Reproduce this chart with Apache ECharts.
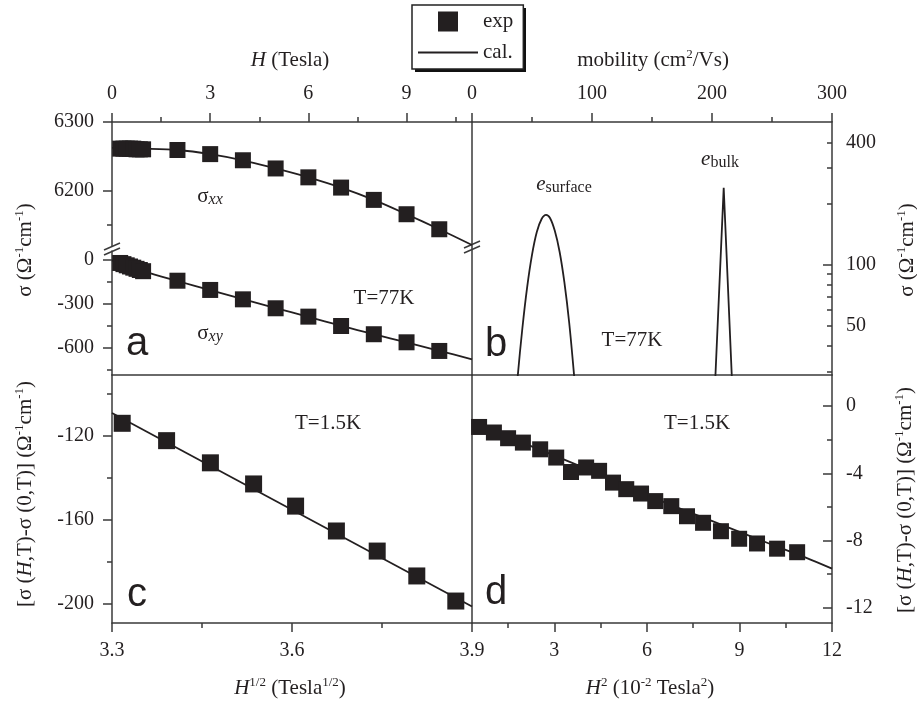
<!doctype html>
<html lang="en">
  <head>
    <meta charset="UTF-8" />
    <title>Magnetoconductivity</title>
    <style>
      html,
      body {
        width: 100%;
        height: 100%;
        margin: 0;
        padding: 0;
        background: #fff;
      }
      #Echart {
        width: 917px;
        height: 703px;
      }
    </style>
  </head>
  <body>
    <div id="Echart"></div>
    <script src="https://cdn.jsdelivr.net/npm/echarts@6/dist/echarts.min.js"></script>
    <script>
      // panel a : sigma_xx / sigma_xy against H (Tesla), T=77K
      const aExpH = [0.25, 0.35, 0.45, 0.55, 0.65, 0.75, 0.85, 0.95, 2, 3, 4, 5, 6, 7, 8, 9, 10]
      const aExpXX = [6261, 6261, 6261, 6261, 6261, 6260, 6260, 6260, 6259, 6253, 6244, 6232, 6219, 6204, 6186, 6165, 6143]
      const aExpXY = [-25, -33, -41, -49, -57, -65, -73, -81, -146, -209, -273, -334, -391, -455, -511, -566, -625]
      const aCalH = [0, 1, 2, 3, 4, 5, 6, 7, 8, 9, 10, 11]
      const aCalXX = [6262, 6261, 6259, 6253, 6244, 6232, 6219, 6204, 6186, 6165, 6143, 6120]
      const aCalXY = [-8, -84, -148, -210, -272, -333, -392, -453, -511, -567, -624, -682]

      // panel b : mobility spectrum (log sigma)
      const bSurfMu = [34, 38, 42, 46, 50, 54, 58, 61.7, 65, 69, 73, 77, 81, 85, 89]
      const bSurfSigma = [14, 28, 49, 78, 112, 145, 168, 176, 170, 147, 116, 82, 52, 29, 15]
      const bBulkMu = [202, 209.75, 217.3]
      const bBulkSigma = [22, 239, 22]

      // panel c : T=1.5K against H^1/2
      const cExpX = [3.317, 3.391, 3.464, 3.536, 3.606, 3.674, 3.742, 3.808, 3.873]
      const cExpY = [-113.9, -122.2, -132.8, -142.9, -153.5, -165.4, -175.0, -186.9, -198.9]
      const cCalX = [3.3, 3.9]
      const cCalY = [-109, -201.5]

      // panel d : T=1.5K against H^2 (10^-2 Tesla^2)
      const dExpX = [0.56, 1.04, 1.5, 1.98, 2.54, 3.06, 3.54, 4.03, 4.45, 4.9, 5.33, 5.81, 6.27, 6.79, 7.3, 7.82, 8.4, 8.99, 9.57, 10.22, 10.87]
      const dExpY = [-1.24, -1.57, -1.91, -2.17, -2.57, -3.06, -3.92, -3.65, -3.85, -4.55, -4.94, -5.2, -5.65, -5.95, -6.55, -6.94, -7.44, -7.89, -8.17, -8.48, -8.69]
      const dCalX = [0.33, 2, 4, 6, 8, 10, 11.13, 12]
      const dCalY = [-1.0, -2.2, -3.7, -5.3, -6.75, -8.2, -9.0, -9.67]

      // tick labels / tick marks
      const aTopLabels = [0, 3, 6, 9]
      const aTopMinor = [1.5, 4.5, 7.5, 10.5]
      const aXXLabels = [6200, 6300]
      const aXXMinor = [6150]
      const aXYLabels = [-600, -300, 0]
      const aXYMinor = [-750, -450, -150]
      const bTopLabels = [0, 100, 200, 300]
      const bTopMinor = [50, 150, 250]
      const bRightLabels = [50, 100, 400]
      const bRightMajor = [100]
      const bRightMinor = [30, 40, 50, 60, 70, 80, 90, 200, 300, 400]
      const cBottomLabels = [3.3, 3.6, 3.9]
      const cBottomMinor = [3.45, 3.75]
      const cLeftLabels = [-200, -160, -120]
      const cLeftMinor = [-180, -140, -100]
      const dBottomLabels = [3, 6, 9, 12]
      const dBottomMinor = [1.5, 4.5, 7.5, 10.5]
      const dRightLabels = [-12, -8, -4, 0]
      const dRightMinor = [-10, -6, -2]

      const FONT = '"Liberation Serif", "Times New Roman", serif'
      const SANS = '"Liberation Sans", Arial, sans-serif'
      const INK = '#231f20'
      const AXIS_COLOR = '#3a3a3a'

      const pairs = (xs, ys) => xs.map((x, i) => [x, ys[i]])
      const fmt = (v) => String(+Number(v).toFixed(3))

      function mainAxis(grid, pos, type, min, max, labels, ticks, inside) {
        return {
          type: type,
          gridIndex: grid,
          position: pos,
          min: min,
          max: max,
          axisLine: { show: true, onZero: false, lineStyle: { color: AXIS_COLOR, width: 1.5 } },
          axisTick: {
            show: ticks.length > 0,
            inside: !!inside,
            length: 9,
            customValues: ticks,
            lineStyle: { color: AXIS_COLOR, width: 1.5 },
          },
          axisLabel: {
            show: labels.length > 0,
            customValues: labels,
            formatter: fmt,
            margin: inside ? 14 : 18,
            color: INK,
            fontFamily: FONT,
            fontSize: 20,
          },
          splitLine: { show: false },
        }
      }
      function minorAxis(grid, pos, type, min, max, ticks, inside) {
        return {
          type: type,
          gridIndex: grid,
          position: pos,
          min: min,
          max: max,
          axisLine: { show: false, onZero: false },
          axisTick: {
            show: true,
            inside: !!inside,
            length: 5,
            customValues: ticks,
            lineStyle: { color: AXIS_COLOR, width: 1.5 },
          },
          axisLabel: { show: false },
          splitLine: { show: false },
        }
      }
      function lineOnly(grid, pos, min, max) {
        return {
          type: 'value',
          gridIndex: grid,
          position: pos,
          min: min,
          max: max,
          axisLine: { show: true, onZero: false, lineStyle: { color: AXIS_COLOR, width: 1.5 } },
          axisTick: { show: false },
          axisLabel: { show: false },
          splitLine: { show: false },
        }
      }

      const xAxis = [
        mainAxis(0, 'top', 'value', 0, 11, aTopLabels, aTopLabels), // 0
        minorAxis(0, 'top', 'value', 0, 11, aTopMinor), // 1
        lineOnly(1, 'bottom', 0, 11), // 2
        mainAxis(2, 'top', 'value', 0, 300, bTopLabels, bTopLabels), // 3
        minorAxis(2, 'top', 'value', 0, 300, bTopMinor), // 4
        lineOnly(2, 'bottom', 0, 300), // 5
        mainAxis(3, 'bottom', 'value', 3.3, 3.9, cBottomLabels, cBottomLabels), // 6
        minorAxis(3, 'bottom', 'value', 3.3, 3.9, cBottomMinor), // 7
        mainAxis(4, 'bottom', 'value', 0.33, 12, dBottomLabels, dBottomLabels), // 8
        minorAxis(4, 'bottom', 'value', 0.33, 12, dBottomMinor), // 9
      ]
      const yAxis = [
        mainAxis(0, 'left', 'value', 6118.5, 6300, aXXLabels, aXXLabels), // 0
        minorAxis(0, 'left', 'value', 6118.5, 6300, aXXMinor), // 1
        mainAxis(1, 'left', 'value', -789, 56.6, aXYLabels, aXYLabels), // 2
        minorAxis(1, 'left', 'value', -789, 56.6, aXYMinor), // 3
        mainAxis(2, 'right', 'log', 28.8, 503, bRightLabels, bRightMajor, true), // 4
        minorAxis(2, 'right', 'log', 28.8, 503, bRightMinor, true), // 5
        lineOnly(2, 'left', 0, 1), // 6
        mainAxis(3, 'left', 'value', -209.4, -90.8, cLeftLabels, cLeftLabels), // 7
        minorAxis(3, 'left', 'value', -209.4, -90.8, cLeftMinor), // 8
        mainAxis(4, 'right', 'value', -12.9, 1.85, dRightLabels, dRightLabels, true), // 9
        minorAxis(4, 'right', 'value', -12.9, 1.85, dRightMinor, true), // 10
        lineOnly(4, 'left', 0, 1), // 11
      ]

      function expSeries(xi, yi, xs, ys, size) {
        return {
          type: 'scatter',
          name: 'exp',
          xAxisIndex: xi,
          yAxisIndex: yi,
          symbol: 'rect',
          symbolSize: size,
          itemStyle: { color: INK, opacity: 1 },
          data: pairs(xs, ys),
          z: 3,
          silent: true,
        }
      }
      function calSeries(xi, yi, xs, ys, smooth) {
        return {
          type: 'line',
          name: 'cal.',
          xAxisIndex: xi,
          yAxisIndex: yi,
          symbol: 'none',
          showSymbol: false,
          smooth: smooth,
          clip: true,
          lineStyle: { color: INK, width: 1.8 },
          itemStyle: { color: INK },
          data: pairs(xs, ys),
          z: 2,
          silent: true,
        }
      }

      const series = [
        calSeries(0, 0, aCalH, aCalXX, 0.3),
        expSeries(0, 0, aExpH, aExpXX, 16),
        calSeries(2, 2, aCalH, aCalXY, 0.3),
        expSeries(2, 2, aExpH, aExpXY, 16),
        calSeries(3, 4, bSurfMu, bSurfSigma, 0.3),
        calSeries(3, 4, bBulkMu, bBulkSigma, false),
        calSeries(6, 7, cCalX, cCalY, false),
        expSeries(6, 7, cExpX, cExpY, 17),
        calSeries(8, 9, dCalX, dCalY, 0.3),
        expSeries(8, 9, dExpX, dExpY, 16),
      ]

      const rich = {
        i: { fontFamily: FONT, fontSize: 21, fontStyle: 'italic', fill: INK, lineHeight: 24 },
        sup: { fontFamily: FONT, fontSize: 13, fill: INK, verticalAlign: 'top', lineHeight: 14 },
        sub: { fontFamily: FONT, fontSize: 16, fill: INK, verticalAlign: 'bottom', lineHeight: 14 },
        subi: { fontFamily: FONT, fontSize: 16, fontStyle: 'italic', fill: INK, verticalAlign: 'bottom', lineHeight: 14 },
      }
      function label(x, y, text, rot) {
        return {
          type: 'text',
          x: x,
          y: y,
          rotation: rot ? (rot * Math.PI) / 180 : 0,
          silent: true,
          style: {
            text: text,
            fill: INK,
            fontFamily: FONT,
            fontSize: 21,
            lineHeight: 24,
            align: 'center',
            verticalAlign: 'middle',
            textAlign: 'center',
            textVerticalAlign: 'middle',
            rich: rich,
          },
        }
      }
      function letter(x, y, ch) {
        return {
          type: 'text',
          x: x,
          y: y,
          silent: true,
          style: {
            text: ch,
            fill: INK,
            fontFamily: SANS,
            fontSize: 40,
            align: 'center',
            verticalAlign: 'middle',
            textAlign: 'center',
            textVerticalAlign: 'middle',
          },
        }
      }
      function stroke(x1, y1, x2, y2) {
        return {
          type: 'line',
          silent: true,
          shape: { x1: x1, y1: y1, x2: x2, y2: y2 },
          style: { stroke: AXIS_COLOR, lineWidth: 1.5 },
        }
      }

      const sigmaTitle = 'σ (Ω{sup|-1}cm{sup|-1})'
      const deltaTitle = '[σ ({i|H},T)-σ (0,T)] (Ω{sup|-1}cm{sup|-1})'
      const graphic = [
        // drop shadow behind the legend box
        {
          type: 'rect',
          silent: true,
          z: -1,
          shape: { x: 415, y: 8, width: 111, height: 64 },
          style: { fill: '#111' },
        },
        label(290, 60, '{i|H} (Tesla)'),
        label(653, 60, 'mobility (cm{sup|2}/Vs)'),
        label(25, 250, sigmaTitle, 90),
        label(907, 250, sigmaTitle, 90),
        label(25, 494, deltaTitle, 90),
        label(905, 500, deltaTitle, 90),
        label(290, 688, '{i|H}{sup|1/2} (Tesla{sup|1/2})'),
        label(650, 688, '{i|H}{sup|2} (10{sup|-2} Tesla{sup|2})'),
        label(210, 196, 'σ{subi|xx}'),
        label(210, 333, 'σ{subi|xy}'),
        label(384, 298, 'T=77K'),
        label(632, 340, 'T=77K'),
        label(564, 184, '{i|e}{sub|surface}'),
        label(720, 159, '{i|e}{sub|bulk}'),
        label(328, 423, 'T=1.5K'),
        label(697, 423, 'T=1.5K'),
        letter(137, 344, 'a'),
        letter(496, 345, 'b'),
        letter(137, 595, 'c'),
        letter(496, 593, 'd'),
        // axis break marks
        stroke(104, 250, 120, 243),
        stroke(104, 255, 120, 248),
        stroke(464, 248, 480, 241),
        stroke(464, 253, 480, 246),
      ]

      // legend icons: centred square for exp, plain line for cal.
      const EXP_ICON = 'path://M0,0 M20,0 L40,0 L40,20 L20,20 Z M60,20'
      const CAL_ICON = 'path://M0,0 L60,0 L60,1.8 L0,1.8 Z'

      const option = {
        animation: false,
        backgroundColor: '#fff',
        grid: [
          { left: 112, top: 122, width: 360, height: 124, outerBoundsMode: 'none' },
          { left: 112, top: 251, width: 360, height: 124, outerBoundsMode: 'none' },
          { left: 472, top: 122, width: 360, height: 253, outerBoundsMode: 'none' },
          { left: 112, top: 375, width: 360, height: 248, outerBoundsMode: 'none' },
          { left: 472, top: 375, width: 360, height: 248, outerBoundsMode: 'none' },
        ],
        legend: {
          left: 412,
          top: 5,
          orient: 'vertical',
          z: 5,
          data: [
            { name: 'exp', icon: EXP_ICON },
            { name: 'cal.', icon: CAL_ICON },
          ],
          itemWidth: 60,
          itemHeight: 20,
          itemGap: 10,
          symbolKeepAspect: true,
          padding: [6, 10, 6, 6],
          borderColor: '#222',
          borderWidth: 1.5,
          borderRadius: 0,
          backgroundColor: '#fff',
          selectedMode: false,
          itemStyle: { color: INK, borderWidth: 0, opacity: 1 },
          textStyle: { fontFamily: FONT, fontSize: 21, color: INK },
        },
        xAxis: xAxis,
        yAxis: yAxis,
        series: series,
        graphic: graphic,
      }

      const chart = echarts.init(document.getElementById('Echart'))
      chart.setOption(option)
    </script>
  </body>
</html>
